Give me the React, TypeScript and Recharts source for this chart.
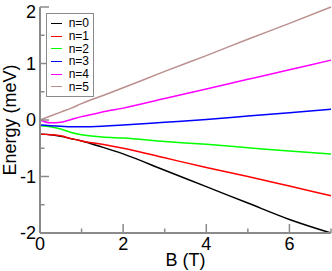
import { Label, Legend, Line, LineChart, XAxis, YAxis } from 'recharts';

const bField = [0, 0.25, 0.5, 0.75, 1, 1.5, 2, 3, 4, 5, 6, 7];
const n0 = [-0.25, -0.26, -0.29, -0.33, -0.37, -0.48, -0.6, -0.89, -1.18, -1.47, -1.76, -2.0];
const n1 = [-0.25, -0.26, -0.28, -0.33, -0.37, -0.43, -0.5, -0.67, -0.84, -1.0, -1.17, -1.34];
const n2 = [-0.1, -0.12, -0.16, -0.22, -0.26, -0.3, -0.32, -0.38, -0.43, -0.49, -0.55, -0.6];
const n3 = [-0.09, -0.1, -0.11, -0.12, -0.12, -0.11, -0.09, -0.04, 0.01, 0.07, 0.13, 0.19];
const n4 = [0, -0.05, -0.04, 0.01, 0.06, 0.14, 0.21, 0.38, 0.55, 0.72, 0.89, 1.06];
const n5 = [0, 0.07, 0.14, 0.21, 0.29, 0.43, 0.57, 0.86, 1.14, 1.43, 1.71, 2.0];

const seriesNames = ['n=0', 'n=1', 'n=2', 'n=3', 'n=4', 'n=5'];
const seriesColors = ['#000000', '#ff0000', '#00ff00', '#0000ff', '#ff00ff', '#bc8f8f'];
const seriesValues = [n0, n1, n2, n3, n4, n5];

const xTicks = [0, 1, 2, 3, 4, 5, 6, 7];
const yTicks = [-2, -1.5, -1, -0.5, 0, 0.5, 1, 1.5, 2];

const AXIS = '#8a8a8a';
const FONT = '"Liberation Sans", Arial, sans-serif';

const data = bField.map((b, i) => {
  const row: Record<string, number> = { b };
  seriesNames.forEach((name, k) => {
    row[name] = seriesValues[k][i];
  });
  return row;
});

// tick marks point into the plot, long for labelled values, short for the minor ones
function BottomTick({ x, y, payload }: any) {
  const major = payload.value % 2 === 0;
  return (
    <g>
      <line x1={x} x2={x} y1={y} y2={y - (major ? 9 : 4.5)} stroke={AXIS} strokeWidth={1.5} />
      {major && (
        <text x={x} y={y + 11} dy="0.36em" textAnchor="middle" fontSize={18} fill="#000" fontFamily={FONT}>
          {payload.value}
        </text>
      )}
    </g>
  );
}

function TopTick({ x, y, payload }: any) {
  const major = payload.value % 2 === 0;
  return <line x1={x} x2={x} y1={y} y2={y + (major ? 9 : 4.5)} stroke={AXIS} strokeWidth={1.5} />;
}

function LeftTick({ x, y, payload }: any) {
  const major = Number.isInteger(payload.value);
  // keep the end labels inside the window, as in the original
  const ly = Math.min(Math.max(y, 12), 236);
  return (
    <g>
      <line x1={x} x2={x + (major ? 9 : 4.5)} y1={y} y2={y} stroke={AXIS} strokeWidth={1.5} />
      {major && (
        <text x={x - 4} y={ly} dy="0.36em" textAnchor="end" fontSize={18} fill="#000" fontFamily={FONT}>
          {payload.value}
        </text>
      )}
    </g>
  );
}

function RightTick({ x, y, payload }: any) {
  const major = Number.isInteger(payload.value);
  return <line x1={x} x2={x - (major ? 9 : 4.5)} y1={y} y2={y} stroke={AXIS} strokeWidth={1.5} />;
}

function LegendBox() {
  return (
    <div
      style={{
        border: `1px solid ${AXIS}`,
        background: '#fff',
        padding: '3px 4px 3px 4px',
        fontFamily: FONT,
        fontSize: 12,
        width: 38,
      }}
    >
      {seriesNames.map((name, k) => (
        <div key={name} style={{ display: 'flex', alignItems: 'center', height: 12.7 }}>
          <span style={{ display: 'inline-block', width: 13, height: 0, borderTop: `1.5px solid ${seriesColors[k]}` }} />
          <span style={{ marginLeft: 7, lineHeight: '12px' }}>{name}</span>
        </div>
      ))}
    </div>
  );
}

export default function App() {
  return (
    <div style={{ position: 'fixed', left: 0, top: 0, width: 332, height: 271, background: '#fff' }}>
      <LineChart width={332} height={271} data={data} margin={{ top: 7, right: 1, left: 0, bottom: 0 }}>
        <XAxis
          dataKey="b"
          type="number"
          domain={[0, 7]}
          ticks={xTicks}
          interval={0}
          height={38}
          stroke={AXIS}
          strokeWidth={2}
          tickLine={false}
          tickSize={0}
          tickMargin={0}
          tick={(p: any) => <BottomTick {...p} />}
        >
          <Label
            content={() => (
              <text x={185.5} y={260} dy="0.36em" textAnchor="middle" fontSize={18} fill="#000" fontFamily={FONT}>
                B (T)
              </text>
            )}
          />
        </XAxis>
        <XAxis
          xAxisId="top"
          orientation="top"
          dataKey="b"
          type="number"
          domain={[0, 7]}
          ticks={xTicks}
          interval={0}
          height={0}
          stroke={AXIS}
          strokeWidth={2}
          tickLine={false}
          tickSize={0}
          tickMargin={0}
          tick={(p: any) => <TopTick {...p} />}
        />
        <YAxis
          domain={[-2, 2]}
          ticks={yTicks}
          interval={0}
          width={40}
          stroke={AXIS}
          strokeWidth={2}
          tickLine={false}
          tickSize={0}
          tickMargin={0}
          tick={(p: any) => <LeftTick {...p} />}
        >
          <Label
            content={() => (
              <text
                x={10}
                y={120}
                dy="0.36em"
                textAnchor="middle"
                fontSize={18}
                fill="#000"
                fontFamily={FONT}
                transform="rotate(-90 10 120)"
              >
                Energy (meV)
              </text>
            )}
          />
        </YAxis>
        <YAxis
          yAxisId="right"
          orientation="right"
          domain={[-2, 2]}
          ticks={yTicks}
          interval={0}
          width={0}
          stroke={AXIS}
          strokeWidth={2}
          tickLine={false}
          tickSize={0}
          tickMargin={0}
          tick={(p: any) => <RightTick {...p} />}
        />
        <Legend
          layout="vertical"
          align="center"
          verticalAlign="middle"
          wrapperStyle={{ left: 46, top: 13, width: 'auto' }}
          content={() => <LegendBox />}
        />
        {seriesNames.map((name, k) => (
          <Line
            key={name}
            type="monotone"
            dataKey={name}
            stroke={seriesColors[k]}
            strokeWidth={1.5}
            dot={false}
            isAnimationActive={false}
          />
        ))}
      </LineChart>
    </div>
  );
}
